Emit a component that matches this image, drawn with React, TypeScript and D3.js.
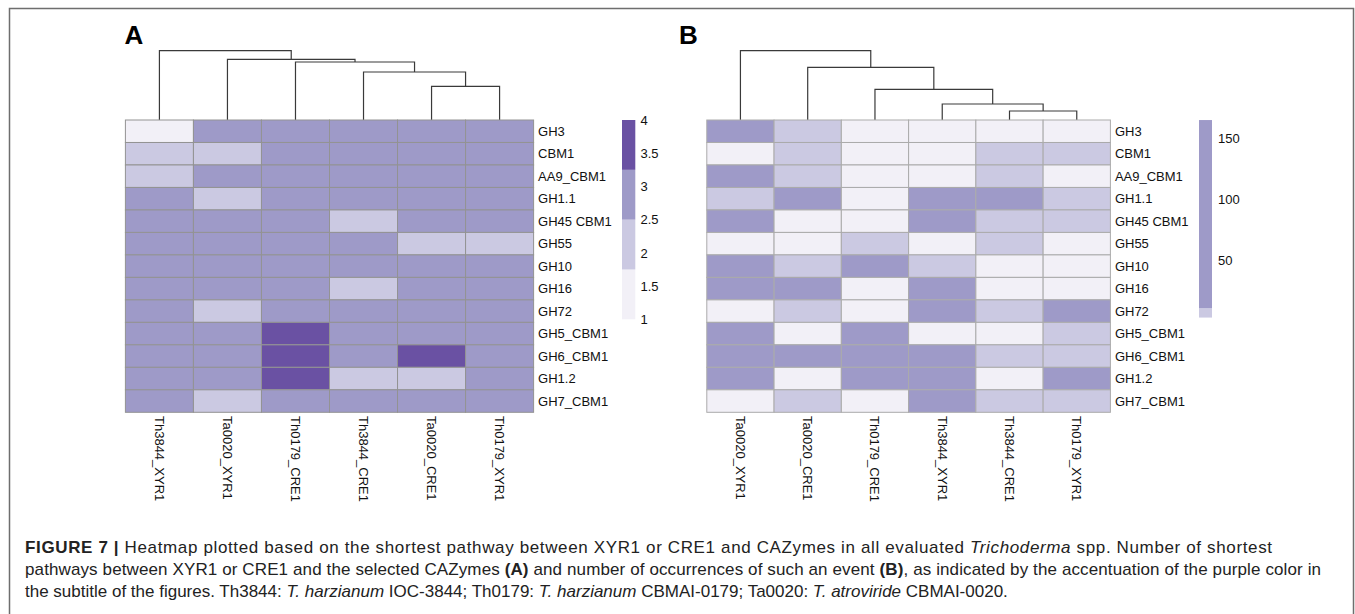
import React from "react";
import * as d3 from "d3";

// ---------- data ----------
const rowLabels = ["GH3", "CBM1", "AA9_CBM1", "GH1.1", "GH45 CBM1", "GH55", "GH10", "GH16", "GH72", "GH5_CBM1", "GH6_CBM1", "GH1.2", "GH7_CBM1"];

const colsA = ["Th3844_XYR1", "Ta0020_XYR1", "Th0179_CRE1", "Th3844_CRE1", "Ta0020_CRE1", "Th0179_XYR1"];
// number of shortest pathways (1..4)
const valuesA = [
  [1, 3, 3, 3, 3, 3],
  [2, 2, 3, 3, 3, 3],
  [2, 3, 3, 3, 3, 3],
  [3, 2, 3, 3, 3, 3],
  [3, 3, 3, 2, 3, 3],
  [3, 3, 3, 3, 2, 2],
  [3, 3, 3, 3, 3, 3],
  [3, 3, 3, 2, 3, 3],
  [3, 2, 3, 3, 3, 3],
  [3, 3, 4, 3, 3, 3],
  [3, 3, 4, 3, 4, 3],
  [3, 3, 4, 2, 2, 3],
  [3, 2, 3, 3, 3, 3],
];
// dendrogram merges: [left node, right node, height]; nodes >= 6 are earlier merges
const mergesA = [
  [4, 5, 33.7],
  [3, 6, 48],
  [2, 7, 58],
  [1, 8, 60.7],
  [0, 9, 69.3],
];

const colsB = ["Ta0020_XYR1", "Ta0020_CRE1", "Th0179_CRE1", "Th3844_XYR1", "Th3844_CRE1", "Th0179_XYR1"];
// colour class of number of occurrences (1 = lowest, 3 = highest)
const levelsB = [
  [3, 2, 1, 1, 1, 1],
  [1, 2, 1, 1, 2, 2],
  [3, 2, 1, 1, 2, 1],
  [2, 3, 1, 3, 3, 2],
  [3, 1, 1, 3, 2, 2],
  [1, 1, 2, 1, 2, 1],
  [3, 2, 3, 2, 1, 1],
  [3, 3, 1, 3, 1, 1],
  [1, 2, 1, 3, 2, 3],
  [3, 1, 3, 1, 1, 2],
  [3, 3, 3, 3, 2, 2],
  [3, 1, 3, 3, 1, 3],
  [1, 2, 1, 3, 2, 2],
];
const mergesB = [
  [4, 5, 9],
  [3, 6, 16],
  [2, 7, 30.7],
  [1, 8, 52.7],
  [0, 9, 69.3],
];

const purples = ["#f2f0f7", "#cbc9e2", "#9e9ac8", "#6a51a3"];
const legendATicks = [1, 1.5, 2, 2.5, 3, 3.5, 4];
const legendABreaks = [1, 1.75, 2.5, 3.25, 4];
const legendBTicks = [50, 100, 150];
const legendBBreaks = [2.7, 10.4, 165];

// ---------- helpers ----------
function Dendro({ merges, x, y, cols }) {
  const nodes = cols.map((c) => ({ x: (x(c) ?? 0) + x.bandwidth() / 2, h: 0 }));
  const paths = [];
  merges.forEach(([a, b, h]) => {
    const A = nodes[a];
    const B = nodes[b];
    const p = d3.path();
    p.moveTo(A.x, y(A.h));
    p.lineTo(A.x, y(h));
    p.lineTo(B.x, y(h));
    p.lineTo(B.x, y(B.h));
    paths.push(p.toString());
    nodes.push({ x: (A.x + B.x) / 2, h });
  });
  return (
    <g>
      {paths.map((d, i) => (
        <path key={i} d={d} fill="none" stroke="#3a3a3a" strokeWidth={1.2} />
      ))}
    </g>
  );
}

function Heatmap({ cols, fillOf, merges, x0, x1, gridStroke }) {
  const y0 = 120, y1 = 412.3;
  const x = d3.scaleBand().domain(cols).range([x0, x1]);
  const y = d3.scaleBand().domain(rowLabels).range([y0, y1]);
  const hy = d3.scaleLinear().domain([0, 69.3]).range([y0, 50.7]);
  return (
    <g>
      <Dendro merges={merges} x={x} y={hy} cols={cols} />
      {rowLabels.map((r, i) =>
        cols.map((c, j) => (
          <rect
            key={r + c}
            x={x(c)}
            y={y(r)}
            width={x.bandwidth()}
            height={y.bandwidth()}
            fill={fillOf(i, j)}
            stroke={gridStroke}
            strokeWidth={1}
          />
        ))
      )}
      {rowLabels.map((r) => (
        <text key={r} x={x1 + 4.5} y={(y(r) ?? 0) + y.bandwidth() / 2} dy="0.36em" fontSize={13} fill="#111">
          {r}
        </text>
      ))}
      {cols.map((c) => (
        <text
          key={c}
          transform={`translate(${(x(c) ?? 0) + x.bandwidth() / 2},416) rotate(90)`}
          dy="0.36em"
          fontSize={13}
          fill="#111"
        >
          {c}
        </text>
      ))}
    </g>
  );
}

export default function App() {
  const colorA = d3.scaleThreshold().domain([1.75, 2.5, 3.25]).range(purples);
  const legA = d3.scaleLinear().domain([1, 4]).range([319.3, 120]);
  const legB = d3.scaleLinear().domain([50, 150]).range([260, 138.3]);

  return (
    <svg width={1355} height={614} style={{ position: "absolute", left: 0, top: 0 }} fontFamily="'Liberation Sans', Arial, sans-serif">
      <rect x={0} y={0} width={1355} height={614} fill="#fff" />
      <rect x={9.5} y={8.5} width={1344} height={640} fill="none" stroke="#6e6e6e" strokeWidth={1.5} />

      <text x={124.5} y={44} fontSize={26} fontWeight="bold" fill="#000">A</text>
      <text x={679} y={44} fontSize={26} fontWeight="bold" fill="#000">B</text>

      <Heatmap
        cols={colsA}
        fillOf={(i, j) => colorA(valuesA[i][j])}
        merges={mergesA}
        x0={125.4}
        x1={533.6}
        gridStroke="#939393"
      />
      <Heatmap
        cols={colsB}
        fillOf={(i, j) => purples[levelsB[i][j] - 1]}
        merges={mergesB}
        x0={706.8}
        x1={1110.4}
        gridStroke="#ababab"
      />

      {/* legend A */}
      {d3.pairs(legendABreaks).map(([a, b], i) => (
        <rect key={i} x={622} y={legA(b)} width={13.3} height={legA(a) - legA(b)} fill={purples[i]} />
      ))}
      {legendATicks.map((t) => (
        <text key={t} x={640.5} y={legA(t)} dy="0.36em" fontSize={13} fill="#111">{t}</text>
      ))}

      {/* legend B */}
      {d3.pairs(legendBBreaks).map(([a, b], i) => (
        <rect key={i} x={1199} y={legB(b)} width={13} height={legB(a) - legB(b)} fill={purples[i + 1]} />
      ))}
      {legendBTicks.map((t) => (
        <text key={t} x={1218} y={legB(t)} dy="0.36em" fontSize={13} fill="#111">{t}</text>
      ))}

      {/* caption */}
      <g fontSize={17} fill="#222">
        <text x={25} y={553} textLength={1247} lengthAdjust="spacing">
          <tspan fontWeight="bold">FIGURE 7 | </tspan>
          Heatmap plotted based on the shortest pathway between XYR1 or CRE1 and CAZymes in all evaluated <tspan fontStyle="italic">Trichoderma</tspan> spp. Number of shortest
        </text>
        <text x={25} y={575} textLength={1296} lengthAdjust="spacing">
          pathways between XYR1 or CRE1 and the selected CAZymes <tspan fontWeight="bold">(A)</tspan> and number of occurrences of such an event <tspan fontWeight="bold">(B)</tspan>, as indicated by the accentuation of the purple color in
        </text>
        <text x={25} y={597}>
          the subtitle of the figures. Th3844: <tspan fontStyle="italic">T. harzianum</tspan> IOC-3844; Th0179: <tspan fontStyle="italic">T. harzianum</tspan> CBMAI-0179; Ta0020: <tspan fontStyle="italic">T. atroviride</tspan> CBMAI-0020.
        </text>
      </g>
    </svg>
  );
}
